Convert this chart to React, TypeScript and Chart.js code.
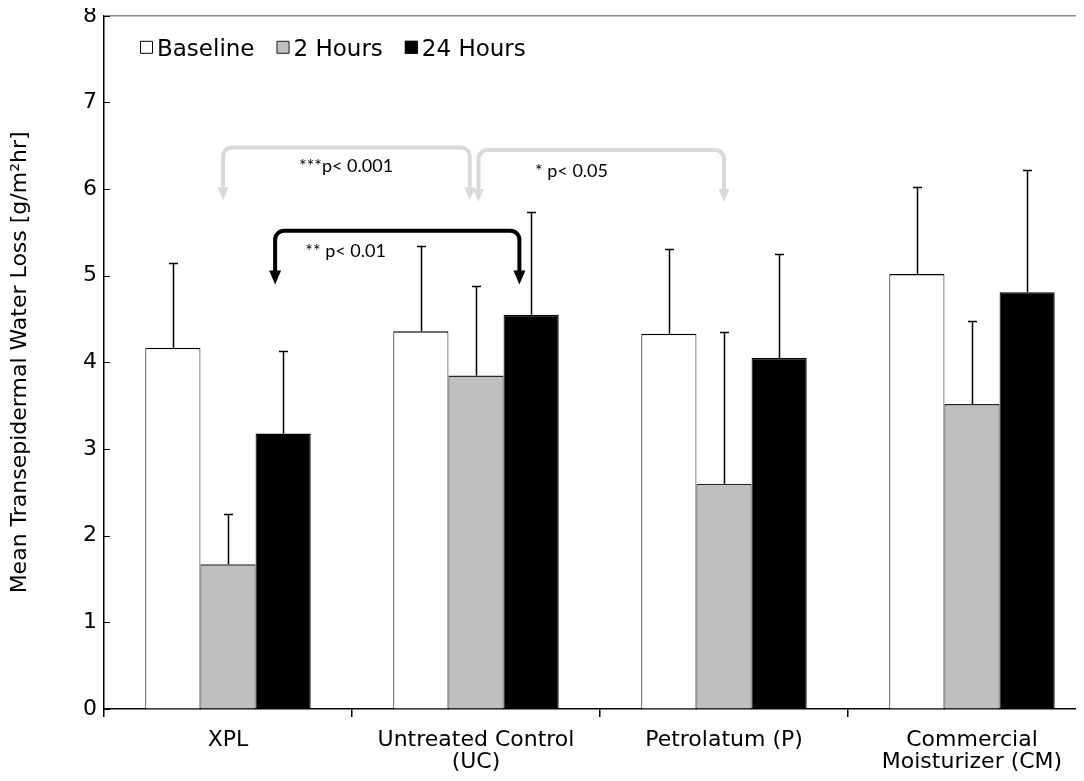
import React, { useEffect, useRef } from 'react';
import { Chart, registerables } from 'chart.js';

Chart.register(...registerables);

// ---- data ----
const categories: (string | string[])[] = [
  'XPL',
  ['Untreated Control', '(UC)'],
  'Petrolatum (P)',
  ['Commercial', 'Moisturizer (CM)'],
];
const seriesNames = ['Baseline', '2 Hours', '24 Hours'];
const baseline = [4.17, 4.36, 4.33, 5.02];
const hours2 = [1.67, 3.85, 2.6, 3.52];
const hours24 = [3.18, 4.55, 4.05, 4.81];
const baselineErr = [0.98, 0.98, 0.98, 1.0];
const hours2Err = [0.58, 1.03, 1.75, 0.96];
const hours24Err = [0.95, 1.18, 1.2, 1.41];
const yMin = 0;
const yMax = 8;
const yStep = 1;
const yTitle = 'Mean Transepidermal Water Loss [g/m\u00B2hr]';

// significance brackets (category-index units on x, data values on y)
const bracketFrom = [-0.02, 1.01, 0.19];
const bracketTo = [0.975, 2.0, 1.175];
const bracketTop = [6.48, 6.45, 5.52];
const bracketTip = [5.87, 5.85, 4.9];
const bracketText = ['***p< 0.001', '* p< 0.05', '** p< 0.01'];
const bracketTextX = [0.476, 1.385, 0.474];
const bracketTextY = [6.27, 6.21, 5.28];

const errors = [baselineErr, hours2Err, hours24Err];

// ---- styles ----
const FONT = "'DejaVu Sans', sans-serif";
const NOTE_FONT = "Lato, 'Open Sans', sans-serif";
const fills = ['#ffffff', '#bfbfbf', '#000000'];
const borders = ['#000000', '#262626', '#000000'];
const bracketColors = ['#d9d9d9', '#d9d9d9', '#000000'];

function drawBracket(
  ctx: CanvasRenderingContext2D,
  x1: number,
  x2: number,
  yTop: number,
  yTip: number,
  color: string,
  lw: number,
  headW: number,
  headL: number
) {
  const r = 9;
  const yBase = yTip - headL;
  ctx.strokeStyle = color;
  ctx.lineWidth = lw;
  ctx.lineJoin = 'round';
  ctx.lineCap = 'butt';
  ctx.beginPath();
  ctx.moveTo(x1, yBase + 1);
  ctx.arcTo(x1, yTop, x1 + r, yTop, r);
  ctx.arcTo(x2, yTop, x2, yTop + r, r);
  ctx.lineTo(x2, yBase + 1);
  ctx.stroke();
  ctx.fillStyle = color;
  [x1, x2].forEach((x) => {
    ctx.beginPath();
    ctx.moveTo(x - headW / 2, yBase);
    ctx.lineTo(x + headW / 2, yBase);
    ctx.lineTo(x, yTip);
    ctx.closePath();
    ctx.fill();
  });
}

const extrasPlugin = {
  id: 'extras',
  afterDatasetsDraw(chart: any) {
    const { ctx, chartArea } = chart;
    const xs = chart.scales.x;
    const ys = chart.scales.y;
    ctx.save();

    // top border of plot area
    const yTopPx = ys.getPixelForValue(yMax);
    ctx.strokeStyle = '#8a8a8a';
    ctx.lineWidth = 1.5;
    ctx.beginPath();
    ctx.moveTo(chartArea.left, yTopPx);
    ctx.lineTo(chartArea.right + 10, yTopPx);
    ctx.stroke();

    // inner y tick marks
    ctx.strokeStyle = '#000';
    ctx.lineWidth = 1;
    ys.ticks.forEach((t: any) => {
      const py = Math.round(ys.getPixelForValue(t.value)) + 0.5;
      ctx.beginPath();
      ctx.moveTo(chartArea.left, py);
      ctx.lineTo(chartArea.left + 6, py);
      ctx.stroke();
    });

    // error bars (plus only)
    chart.data.datasets.forEach((ds: any, di: number) => {
      const meta = chart.getDatasetMeta(di);
      meta.data.forEach((el: any, i: number) => {
        const v = ds.data[i] as number;
        const top = Math.round(ys.getPixelForValue(v + errors[di][i])) + 0.5;
        const base = ys.getPixelForValue(v);
        const x = Math.round(el.x) + 0.5;
        ctx.strokeStyle = '#000';
        ctx.lineWidth = 1.5;
        ctx.beginPath();
        ctx.moveTo(x, base);
        ctx.lineTo(x, top);
        ctx.moveTo(x - 4.5, top);
        ctx.lineTo(x + 4.5, top);
        ctx.stroke();
      });
    });

    // significance brackets
    bracketFrom.forEach((f, i) => {
      const x1 = xs.getPixelForValue(f);
      const x2 = xs.getPixelForValue(bracketTo[i]);
      const yt = ys.getPixelForValue(bracketTop[i]);
      const yp = ys.getPixelForValue(bracketTip[i]);
      const black = bracketColors[i] === '#000000';
      drawBracket(ctx, x1, x2, yt, yp, bracketColors[i], 4, black ? 12 : 11, black ? 14 : 13);
      ctx.fillStyle = '#000';
      ctx.font = `18px ${NOTE_FONT}`;
      ctx.textAlign = 'center';
      ctx.textBaseline = 'middle';
      ctx.fillText(bracketText[i], xs.getPixelForValue(bracketTextX[i]), ys.getPixelForValue(bracketTextY[i]));
    });

    // legend
    ctx.font = `23px ${FONT}`;
    ctx.textAlign = 'left';
    ctx.textBaseline = 'alphabetic';
    let lx = chartArea.left + 36;
    const boxTop = chartArea.top + 25;
    chart.data.datasets.forEach((ds: any, di: number) => {
      ctx.fillStyle = fills[di];
      ctx.fillRect(lx, boxTop, 13, 13);
      ctx.strokeStyle = borders[di];
      ctx.lineWidth = 1;
      ctx.strokeRect(lx + 0.5, boxTop + 0.5, 12, 12);
      ctx.fillStyle = '#000';
      ctx.fillText(ds.label, lx + 17, chartArea.top + 40);
      lx += 17 + ctx.measureText(ds.label).width + 22;
    });

    ctx.restore();
  },
};

export default function App() {
  const ref = useRef<HTMLCanvasElement>(null);

  useEffect(() => {
    if (!ref.current) return;
    const seriesData = [baseline, hours2, hours24];
    const chart = new Chart(ref.current, {
      type: 'bar',
      data: {
        labels: categories as any,
        datasets: seriesNames.map((name, i) => ({
          label: name,
          data: seriesData[i],
          backgroundColor: fills[i],
          borderColor: borders[i],
          borderWidth: { top: 1.5, left: 1, right: 1, bottom: 0 },
          borderSkipped: false,
          barPercentage: 1,
          categoryPercentage: 0.667,
        })),
      },
      options: {
        responsive: false,
        animation: false,
        layout: { padding: { left: 0, right: 4, top: 15, bottom: 0 } },
        plugins: {
          legend: { display: false },
          tooltip: { enabled: false },
        },
        scales: {
          x: {
            afterFit: (s: any) => {
              s.height = 72;
            },
            grid: {
              display: true,
              drawOnChartArea: false,
              drawTicks: true,
              tickLength: 8,
              tickColor: '#000',
              lineWidth: 1.5,
              offset: true,
            },
            border: { display: true, color: '#000', width: 1.5 },
            ticks: {
              color: '#000',
              font: { family: FONT, size: 22, lineHeight: 1.0 },
              padding: 12,
              maxRotation: 0,
              minRotation: 0,
              autoSkip: false,
            },
          },
          y: {
            min: yMin,
            max: yMax,
            afterFit: (s: any) => {
              s.width = 104;
            },
            grid: { display: true, drawOnChartArea: false, drawTicks: false },
            border: { display: true, color: '#000', width: 1.5 },
            ticks: {
              stepSize: yStep,
              color: '#000',
              font: { family: FONT, size: 22, lineHeight: 0.8 },
              padding: 7,
            },
            title: {
              display: true,
              text: yTitle,
              color: '#000',
              font: { family: FONT, size: 22 },
              padding: { top: 7, bottom: 0 },
            },
          },
        },
      },
      plugins: [extrasPlugin],
    });
    return () => chart.destroy();
  }, []);

  return (
    <div
      style={{
        margin: '-8px',
        width: 1084,
        height: 781,
        overflow: 'hidden',
        position: 'relative',
        background: '#fff',
      }}
    >
      <canvas ref={ref} width={1100} height={781} style={{ display: 'block' }} />
    </div>
  );
}
